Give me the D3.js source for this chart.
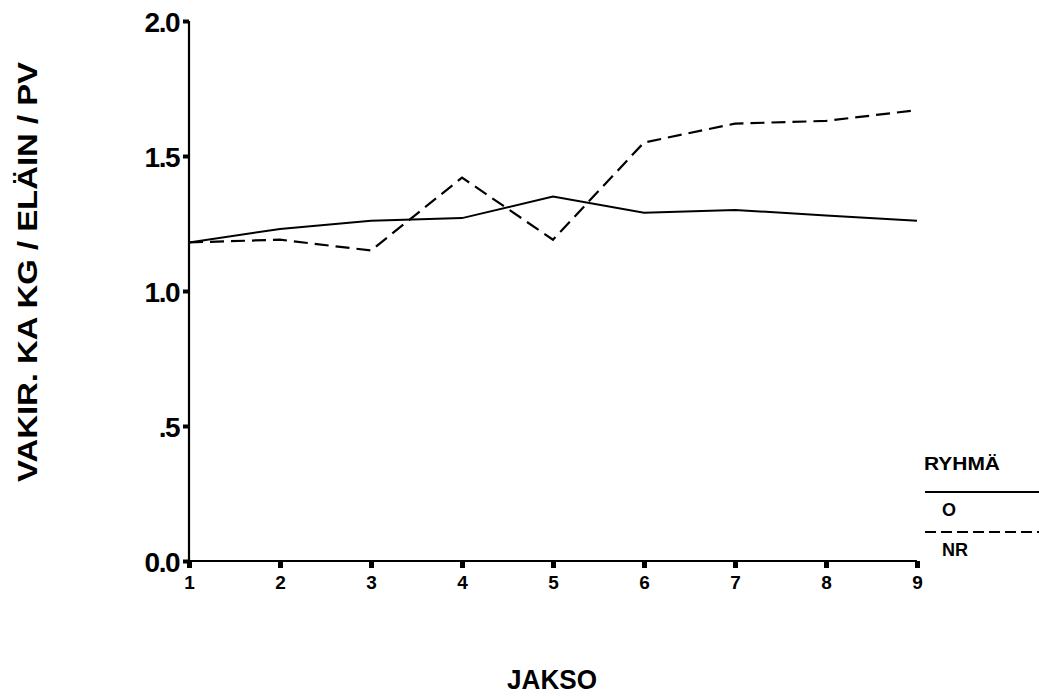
<!DOCTYPE html>
<html>
<head>
<meta charset="utf-8">
<script src="https://cdn.jsdelivr.net/npm/d3@7"></script>
<style>
  html, body { margin: 0; padding: 0; background: #fff; }
  svg { display: block; }
  text { font-family: "Liberation Sans", Arial, Helvetica, sans-serif; font-weight: bold; fill: #000; }
</style>
</head>
<body>
<svg id="chart" width="1039" height="696"></svg>
<script>
// Periods (JAKSO) on the x axis
const periods = [1, 2, 3, 4, 5, 6, 7, 8, 9];
// Group O: solid line
const groupO = [1.18, 1.23, 1.26, 1.27, 1.35, 1.29, 1.30, 1.28, 1.26];
// Group NR: dashed line
const groupNR = [1.18, 1.19, 1.15, 1.42, 1.19, 1.55, 1.62, 1.63, 1.67];
// Y axis ticks and their printed labels
const yTicks = [0, 0.5, 1.0, 1.5, 2.0];
const yTickLabels = ["0.0", ".5", "1.0", "1.5", "2.0"];
const seriesNames = ["O", "NR"];

const svg = d3.select("#chart");

const x = d3.scaleLinear().domain([1, 9]).range([189, 917]);
const y = d3.scaleLinear().domain([0, 2]).range([561, 21]);

// Y axis
const yAxis = d3.axisLeft(y)
  .tickValues(yTicks)
  .tickFormat((d, i) => yTickLabels[i])
  .tickSize(6)
  .tickPadding(4);

const gy = svg.append("g").attr("transform", "translate(189,0)").call(yAxis);
gy.select(".domain").attr("stroke", "#000").attr("stroke-width", 2.2).attr("d", `M0,${y(2)}V${y(0)}`);
gy.selectAll(".tick line").attr("stroke", "#000").attr("stroke-width", 4);
gy.selectAll(".tick text")
  .style("font-size", "28px")
  .style("letter-spacing", "-1.5px")
  .attr("dy", "0.36em");

// X axis
const xAxis = d3.axisBottom(x)
  .tickValues(periods)
  .tickFormat(d3.format("d"))
  .tickSize(7)
  .tickPadding(6);

const gx = svg.append("g").attr("transform", `translate(0,${y(0)})`).call(xAxis);
gx.select(".domain").attr("stroke", "#000").attr("stroke-width", 2.2).attr("d", `M${x(1)},0H${x(9)}`);
gx.selectAll(".tick line").attr("stroke", "#000").attr("stroke-width", 5);
gx.selectAll(".tick text")
  .style("font-size", "19px")
  .attr("dy", "0.8em");

// Data lines
const line = d3.line()
  .x((d, i) => x(periods[i]))
  .y(d => y(d));

svg.append("path")
  .datum(groupO)
  .attr("d", line)
  .attr("fill", "none")
  .attr("stroke", "#000")
  .attr("stroke-width", 2);

svg.append("path")
  .datum(groupNR)
  .attr("d", line)
  .attr("fill", "none")
  .attr("stroke", "#000")
  .attr("stroke-width", 2.2)
  .attr("stroke-dasharray", "14,7");

// Axis titles
svg.append("text")
  .attr("transform", "translate(37,272) rotate(-90)")
  .attr("text-anchor", "middle")
  .style("font-size", "28px")
  .attr("textLength", 420)
  .attr("lengthAdjust", "spacingAndGlyphs")
  .text("VAKIR. KA KG / ELÄIN / PV");

svg.append("text")
  .attr("x", 552)
  .attr("y", 689)
  .attr("text-anchor", "middle")
  .style("font-size", "28px")
  .attr("textLength", 90)
  .attr("lengthAdjust", "spacingAndGlyphs")
  .text("JAKSO");

// Legend
const legend = svg.append("g");
legend.append("text")
  .attr("x", 924).attr("y", 470)
  .style("font-size", "19px")
  .attr("textLength", 76)
  .attr("lengthAdjust", "spacingAndGlyphs")
  .text("RYHMÄ");

legend.append("line")
  .attr("x1", 925).attr("x2", 1039)
  .attr("y1", 492).attr("y2", 492)
  .attr("stroke", "#000").attr("stroke-width", 1.8);

legend.append("text")
  .attr("x", 942).attr("y", 516)
  .style("font-size", "18px")
  .text(seriesNames[0]);

legend.append("line")
  .attr("x1", 925).attr("x2", 1039)
  .attr("y1", 532).attr("y2", 532)
  .attr("stroke", "#000").attr("stroke-width", 1.8)
  .attr("stroke-dasharray", "11,5");

legend.append("text")
  .attr("x", 942).attr("y", 556)
  .style("font-size", "18px")
  .text(seriesNames[1]);
</script>
</body>
</html>
